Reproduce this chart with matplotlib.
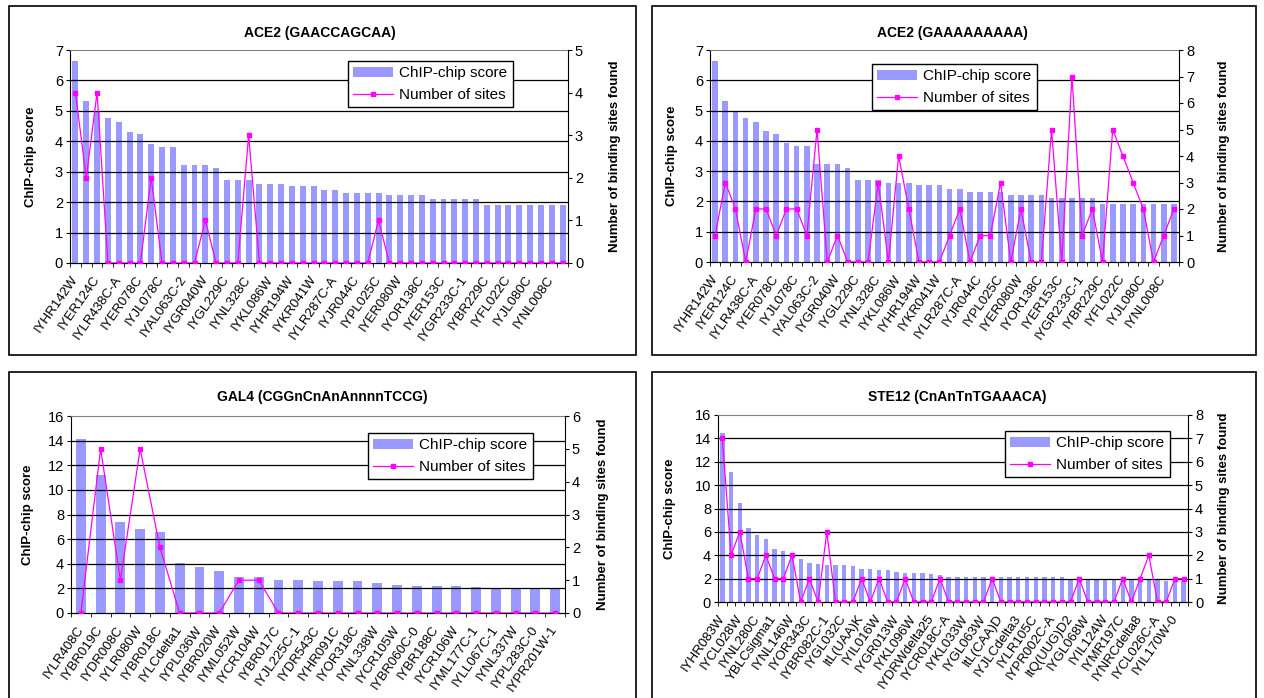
import matplotlib

matplotlib.use("Agg")

import matplotlib.pyplot as plt
import numpy as np
from matplotlib.lines import Line2D
from matplotlib.patches import Patch, Rectangle

W, H = 1264, 698
BAR_COLOR = "#9999ff"
LINE_COLOR = "#ff00ff"

ACE2_LABELS = [
    "IYHR142W", "IYER124C", "IYLR438C-A", "IYER078C", "IYJL078C",
    "IYAL063C-2", "IYGR040W", "IYGL229C", "IYNL328C", "IYKL086W",
    "IYHR194W", "IYKR041W", "IYLR287C-A", "IYJR044C", "IYPL025C",
    "IYER080W", "IYOR138C", "IYER153C", "IYGR233C-1", "IYBR229C",
    "IYFL022C", "IYJL080C", "IYNL008C",
]
ACE2_SCORES = [
    6.64, 5.33, 4.95, 4.75, 4.62, 4.31, 4.23, 3.92, 3.82, 3.82,
    3.23, 3.23, 3.23, 3.12, 2.72, 2.72, 2.72, 2.61, 2.61, 2.61,
    2.54, 2.54, 2.54, 2.41, 2.41, 2.30, 2.30, 2.30, 2.30, 2.22,
    2.22, 2.22, 2.22, 2.10, 2.10, 2.10, 2.10, 2.10, 1.91, 1.91,
    1.91, 1.91, 1.91, 1.91, 1.91, 1.91,
]
ACE2_SITES_GAACCAGCAA = [
    4, 2, 4, 0, 0, 0, 0, 2, 0, 0, 0, 0, 1, 0, 0, 0, 3, 0, 0, 0,
    0, 0, 0, 0, 0, 0, 0, 0, 1, 0, 0, 0, 0, 0, 0, 0, 0, 0, 0, 0,
    0, 0, 0, 0, 0, 0,
]
ACE2_SITES_GAAAAAAAAA = [
    1, 3, 2, 0, 2, 2, 1, 2, 2, 1, 5, 0, 1, 0, 0, 0, 3, 0, 4, 2,
    0, 0, 0, 1, 2, 0, 1, 1, 3, 0, 2, 0, 0, 5, 0, 7, 1, 2, 0, 5,
    4, 3, 2, 0, 1, 2,
]

GAL4_LABELS = [
    "IYLR408C", "IYBR019C", "IYDR008C", "IYLR080W", "IYBR018C",
    "IYLCdelta1", "IYPL036W", "IYBR020W", "IYML052W", "IYCR104W",
    "IYBR017C", "IYJL225C-1", "IYDR543C", "IYHR091C", "IYOR318C",
    "IYNL338W", "IYCR105W", "IYBR060C-0", "IYBR188C", "IYCR106W",
    "IYML177C-1", "IYLL067C-1", "IYNL337W", "IYPL283C-0", "IYPR201W-1",
]
GAL4_SCORES = [
    14.15, 11.2, 7.4, 6.85, 6.6, 4.1, 3.7, 3.4, 2.95, 2.9,
    2.7, 2.7, 2.6, 2.57, 2.57, 2.47, 2.3, 2.23, 2.22, 2.22,
    2.14, 2.03, 2.03, 2.03, 2.03,
]
GAL4_SITES = [
    0, 5, 1, 5, 2, 0, 0, 0, 1, 1, 0, 0, 0, 0, 0, 0, 0, 0, 0, 0,
    0, 0, 0, 0, 0,
]

STE12_LABELS = [
    "IYHR083W", "IYCL028W", "IYNL280C", "YBLCsigma1", "IYNL146W",
    "IYOR343C", "IYBR082C-1", "IYGL032C", "ItL(UAA)K", "IYIL016W",
    "IYGR013W", "IYKL096W", "IYDRWdelta25", "IYCR018C-A", "IYKL033W",
    "IYGL063W", "ItL(CAA)D", "IYJLCdelta3", "IYLR105C", "IYPR002C-A",
    "ItQ(UUG)D2", "IYGL068W", "IYIL124W", "IYMR197C", "IYNRCdelta8",
    "IYCL026C-A", "IYIL170W-0",
]
STE12_SCORES = [
    14.5, 11.1, 8.5, 6.3, 5.7, 5.35, 4.55, 4.4, 4.2, 3.7,
    3.37, 3.26, 3.2, 3.2, 3.14, 3.1, 2.85, 2.85, 2.7, 2.7,
    2.6, 2.46, 2.45, 2.45, 2.37, 2.35, 2.17, 2.15, 2.12, 2.12,
    2.12, 2.12, 2.1, 2.1, 2.1, 2.1, 2.1, 2.1, 2.1, 2.1,
    1.92, 1.92, 1.92, 1.92, 1.92, 1.92, 1.92, 1.92, 1.92, 1.92,
    1.92, 1.8, 1.8, 1.8,
]
STE12_SITES = [
    7, 2, 3, 1, 1, 2, 1, 1, 2, 0, 1, 0, 3, 0, 0, 0, 1, 0, 1, 0,
    0, 1, 0, 0, 0, 1, 0, 0, 0, 0, 0, 1, 0, 0, 0, 0, 0, 0, 0, 0,
    0, 1, 0, 0, 0, 0, 1, 0, 1, 2, 0, 0, 1, 1,
]

plt.rcParams["font.family"] = ["Liberation Sans", "DejaVu Sans"]


def fig_rect(x0, y0, x1, y1):
    return [x0 / W, 1 - y1 / H, (x1 - x0) / W, (y1 - y0) / H]


def draw_panel(fig, p):
    n = len(p["scores"])
    x = np.arange(n)
    ax = fig.add_axes(fig_rect(*p["axes"]))
    ax.bar(x, p["scores"], width=p["bar_width"], color=BAR_COLOR, zorder=1)
    ax.set_xlim(-0.5, n - 0.5)
    ax.set_ylim(0, p["left_max"])
    ticks = np.arange(0, p["left_max"] + 0.1, p["left_step"])
    ax.set_yticks(ticks)
    for t in ticks[1:-1]:
        ax.axhline(t, color="black", linewidth=0.9, zorder=2)
    ax.spines["top"].set_color("#808080")
    ax.spines["right"].set_visible(False)
    ax.tick_params(axis="y", length=3, labelsize=10.5, pad=2)

    step = p["label_step"]
    ax.set_xticks(x[::step][: len(p["labels"])])
    ax.set_xticklabels(
        p["labels"], rotation=55, ha="right", va="center",
        rotation_mode="anchor", fontsize=9.5,
    )
    ax.set_xticks(np.arange(-0.5, n, 1), minor=True)
    ax.tick_params(axis="x", which="major", length=0, pad=10)
    ax.tick_params(axis="x", which="minor", length=3)

    ax2 = ax.twinx()
    ax2.plot(
        x, p["sites"], color=LINE_COLOR, linewidth=0.9,
        marker="s", markersize=3.2, zorder=3,
    )
    ax2.set_ylim(0, p["right_max"])
    ax2.set_yticks(np.arange(0, p["right_max"] + 1))
    ax2.spines["top"].set_visible(False)
    ax2.spines["left"].set_visible(False)
    ax2.tick_params(axis="y", length=3, labelsize=10.5, pad=2)

    handles = [
        Patch(facecolor=BAR_COLOR, edgecolor="none", label="ChIP-chip score"),
        Line2D([], [], color=LINE_COLOR, marker="s", markersize=3.2,
               linewidth=0.9, label="Number of sites"),
    ]
    lx, ly = p["legend"]
    leg = ax2.legend(
        handles=handles, loc="upper left",
        bbox_to_anchor=(lx / W, 1 - ly / H), bbox_transform=fig.transFigure,
        borderaxespad=0, fontsize=11, frameon=True, fancybox=False,
        edgecolor="black", framealpha=1, handlelength=2.6,
        handletextpad=0.4, borderpad=0.35, labelspacing=0.5,
    )
    leg.get_frame().set_linewidth(1.0)
    leg.set_zorder(10)

    tx, ty = p["title"]
    fig.text(tx / W, 1 - ty / H, p["name"], ha="center", va="center",
             fontsize=10, fontweight="bold")
    y0, y1 = p["axes"][1], p["axes"][3]
    yc = 1 - (y0 + y1) / 2 / H
    fig.text(p["ylabel_left"] / W, yc, "ChIP-chip score", rotation=90,
             ha="center", va="center", fontsize=9.5, fontweight="bold")
    fig.text(p["ylabel_right"] / W, yc, "Number of binding sites found",
             rotation=90, ha="center", va="center", fontsize=9.5,
             fontweight="bold")


fig = plt.figure(figsize=(W / 100, H / 100), dpi=100)
fig.patch.set_facecolor("white")

for bx0, by0, bx1, by1 in [
    (9, 6, 636, 355), (652, 6, 1256, 355),
    (9, 372, 636, 710), (652, 372, 1256, 710),
]:
    fig.patches.append(Rectangle(
        (bx0 / W, 1 - by1 / H), (bx1 - bx0) / W, (by1 - by0) / H,
        transform=fig.transFigure, fill=False, edgecolor="black",
        linewidth=1.2,
    ))

panels = [
    dict(name="ACE2 (GAACCAGCAA)", axes=(70, 50, 568, 263),
         scores=ACE2_SCORES, sites=ACE2_SITES_GAACCAGCAA, labels=ACE2_LABELS,
         label_step=2, bar_width=0.55, left_max=7, left_step=1, right_max=5,
         legend=(348, 61), title=(320, 33), ylabel_left=31, ylabel_right=615),
    dict(name="ACE2 (GAAAAAAAAA)", axes=(710, 50, 1179, 262),
         scores=ACE2_SCORES, sites=ACE2_SITES_GAAAAAAAAA, labels=ACE2_LABELS,
         label_step=2, bar_width=0.55, left_max=7, left_step=1, right_max=8,
         legend=(872, 64), title=(952, 33), ylabel_left=672,
         ylabel_right=1224),
    dict(name="GAL4 (CGGnCnAnAnnnnTCCG)", axes=(71, 416, 565, 613),
         scores=GAL4_SCORES, sites=GAL4_SITES, labels=GAL4_LABELS,
         label_step=1, bar_width=0.5, left_max=16, left_step=2, right_max=6,
         legend=(368, 433), title=(322, 397), ylabel_left=28,
         ylabel_right=603),
    dict(name="STE12 (CnAnTnTGAAACA)", axes=(718, 415, 1188, 602),
         scores=STE12_SCORES, sites=STE12_SITES, labels=STE12_LABELS,
         label_step=2, bar_width=0.5, left_max=16, left_step=2, right_max=8,
         legend=(1005, 431), title=(957, 397), ylabel_left=670,
         ylabel_right=1224),
]

for panel in panels:
    draw_panel(fig, panel)

fig.savefig("out.png", dpi=100, facecolor="white")
